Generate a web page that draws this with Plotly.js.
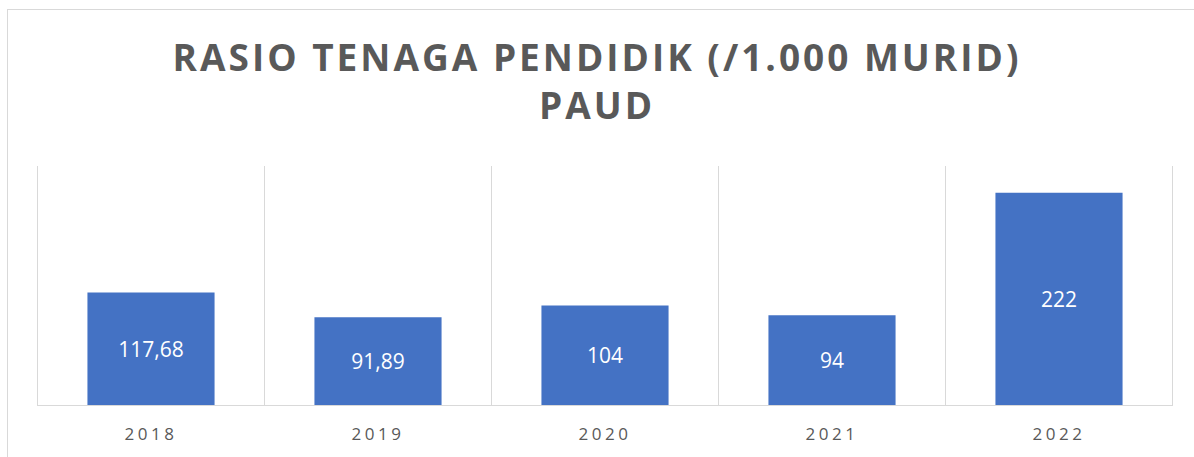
<!DOCTYPE html>
<html>
<head>
<meta charset="utf-8">
<script src="https://cdn.plot.ly/plotly-3.0.1.min.js"></script>
<style>
html,body{margin:0;padding:0;background:#fff;overflow:hidden;}
#wrap{position:relative;width:1194px;height:457px;overflow:hidden;}
#chart{width:1194px;height:457px;}
#frame{position:absolute;left:7px;top:9px;width:1400px;height:800px;border:1px solid #d9d9d9;pointer-events:none;}
.gtitle{letter-spacing:3px;}
.xtick text{letter-spacing:3.5px;}
</style>
</head>
<body>
<div id="wrap">
<div id="chart"></div>
<div id="frame"></div>
</div>
<script>
const years = ['2018','2019','2020','2021','2022'];
const ratios = [117.68, 91.89, 104, 94, 222];
const labels = ['117,68','91,89','104','94','222'];
const chartTitle = 'RASIO TENAGA PENDIDIK (/1.000 MURID)<br>PAUD';

const trace = {
  type: 'bar',
  x: years,
  y: ratios,
  text: labels,
  texttemplate: '%{text}',
  textposition: 'inside',
  insidetextanchor: 'middle',
  textangle: 0,
  insidetextfont: {family: 'Open Sans, sans-serif', size: 21, color: '#ffffff'},
  marker: {color: '#4472C4'},
  hoverinfo: 'skip'
};

const edgeLine = (xv) => ({
  type: 'line', xref: 'x', yref: 'paper',
  x0: xv, x1: xv, y0: 0, y1: 1,
  line: {color: '#d9d9d9', width: 1},
  layer: 'below'
});

const layout = {
  width: 1194,
  height: 457,
  margin: {l: 37, r: 21, t: 166, b: 52},
  paper_bgcolor: '#ffffff',
  plot_bgcolor: 'rgba(0,0,0,0)',
  bargap: 0.44,
  showlegend: false,
  title: {
    text: chartTitle,
    font: {family: 'Open Sans, sans-serif', size: 37, color: '#595959', weight: 700},
    x: 0.5, xanchor: 'center',
    y: 0.845, yanchor: 'top', yref: 'container'
  },
  xaxis: {
    type: 'category',
    tickson: 'boundaries',
    showgrid: true,
    gridcolor: '#d9d9d9',
    gridwidth: 1,
    showline: true,
    linecolor: '#d9d9d9',
    linewidth: 1,
    ticks: '',
    ticklabelstandoff: 14,
    tickfont: {family: 'Open Sans, sans-serif', size: 17, color: '#595959'},
    fixedrange: true
  },
  yaxis: {
    range: [0, 250],
    showgrid: false,
    zeroline: false,
    showticklabels: false,
    showline: false,
    fixedrange: true
  },
  shapes: [edgeLine(-0.5), edgeLine(years.length - 0.5)]
};

Plotly.newPlot('chart', [trace], layout, {displayModeBar: false, staticPlot: true});
</script>
</body>
</html>
